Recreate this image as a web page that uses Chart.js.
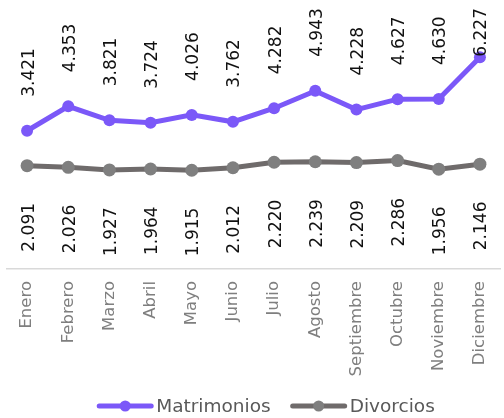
<!DOCTYPE html>
<html>
<head>
<meta charset="utf-8">
<script src="https://cdn.jsdelivr.net/npm/chart.js@4/dist/chart.umd.min.js"></script>
<style>
  html, body { margin: 0; padding: 0; background: #ffffff; overflow: hidden; }
  #wrap { position: relative; width: 512px; height: 418px; }
</style>
</head>
<body>
<div id="wrap"><canvas id="c"></canvas></div>
<script>
const categories = ['Enero', 'Febrero', 'Marzo', 'Abril', 'Mayo', 'Junio', 'Julio', 'Agosto', 'Septiembre', 'Octubre', 'Noviembre', 'Diciembre'];
const matrimonios = [3421, 4353, 3821, 3724, 4026, 3762, 4282, 4943, 4228, 4627, 4630, 6227];
const divorcios = [2091, 2026, 1927, 1964, 1915, 2012, 2220, 2239, 2209, 2286, 1956, 2146];
const seriesNames = ['Matrimonios', 'Divorcios'];

const PURPLE = '#7B58F8';
const GRAY_LINE = '#6F6B6B';
const GRAY_PT = '#7F7F7F';
const FONT = '"DejaVu Sans", sans-serif';

function fmt(v) {
  return String(v).replace(/\B(?=(\d{3})+(?!\d))/g, '.');
}

const valueLabels = {
  id: 'valueLabels',
  afterDatasetsDraw(chart) {
    const ctx = chart.ctx;
    ctx.save();
    ctx.font = '17px ' + FONT;
    ctx.fillStyle = '#111111';
    ctx.textBaseline = 'middle';
    ctx.textAlign = 'left';
    chart.data.datasets.forEach((ds, di) => {
      const meta = chart.getDatasetMeta(di);
      meta.data.forEach((pt, i) => {
        const txt = fmt(ds.data[i]);
        const w = ctx.measureText(txt).width;
        let start;
        if (di === 0) {
          start = pt.y - 34;
          if (start - w < 8) start = 8 + w;
        } else {
          start = pt.y + 86;
        }
        ctx.save();
        ctx.translate(pt.x + 2, start);
        ctx.rotate(-Math.PI / 2);
        ctx.fillText(txt, 0, 0);
        ctx.restore();
      });
    });
    ctx.restore();
  }
};

const customLegend = {
  id: 'customLegend',
  afterDraw(chart) {
    const ctx = chart.ctx;
    ctx.save();
    ctx.font = '18.5px ' + FONT;
    const sw = 56, gapT = 3, gapI = 20;
    const items = chart.data.datasets.map(ds => ({
      label: ds.label, color: ds.borderColor, pcolor: ds.pointBackgroundColor,
      w: ctx.measureText(ds.label).width
    }));
    let total = 0;
    items.forEach((it, i) => { total += sw + gapT + it.w + (i ? gapI : 0); });
    let x = 266 - total / 2;
    const y = 406;
    items.forEach((it) => {
      ctx.strokeStyle = it.color;
      ctx.lineWidth = 5;
      ctx.lineCap = 'round';
      ctx.beginPath();
      ctx.moveTo(x + 2, y);
      ctx.lineTo(x + sw - 2, y);
      ctx.stroke();
      ctx.fillStyle = it.pcolor;
      ctx.beginPath();
      ctx.arc(x + sw / 2, y, 5.5, 0, Math.PI * 2);
      ctx.fill();
      ctx.fillStyle = '#595959';
      ctx.textAlign = 'left';
      ctx.textBaseline = 'middle';
      ctx.fillText(it.label, x + sw + gapT, y + 1);
      x += sw + gapT + it.w + gapI;
    });
    ctx.restore();
  }
};

new Chart(document.getElementById('c'), {
  type: 'line',
  data: {
    labels: categories,
    datasets: [
      {
        label: seriesNames[0],
        data: matrimonios,
        borderColor: PURPLE,
        backgroundColor: PURPLE,
        pointBackgroundColor: PURPLE,
        pointBorderColor: PURPLE,
        borderWidth: 5,
        pointRadius: 6,
        pointBorderWidth: 0,
        tension: 0
      },
      {
        label: seriesNames[1],
        data: divorcios,
        borderColor: GRAY_LINE,
        backgroundColor: GRAY_PT,
        pointBackgroundColor: GRAY_PT,
        pointBorderColor: GRAY_PT,
        borderWidth: 5,
        pointRadius: 6.5,
        pointBorderWidth: 0,
        tension: 0
      }
    ]
  },
  options: {
    responsive: true,
    maintainAspectRatio: false,
    animation: false,
    events: [],
    layout: { padding: { top: 5, left: 3, right: 2, bottom: 25 } },
    plugins: {
      legend: { display: false },
      tooltip: { enabled: false },
      title: { display: false }
    },
    scales: {
      x: {
        offset: true,
        grid: { display: false, drawTicks: false },
        border: { display: true, color: '#D9D9D9', width: 1.5 },
        ticks: {
          minRotation: 90,
          maxRotation: 90,
          autoSkip: false,
          padding: 12,
          color: '#7F7F7F',
          font: { family: FONT, size: 16.5 }
        },
        afterFit(scale) { scale.height = 124; }
      },
      y: {
        display: false,
        min: -1850,
        max: 8160
      }
    }
  },
  plugins: [valueLabels, customLegend]
});
</script>
</body>
</html>
